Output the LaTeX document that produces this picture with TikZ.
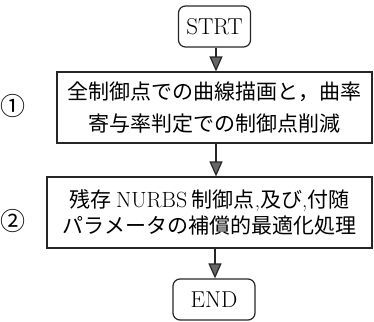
\documentclass[tikz,border=0pt]{standalone}
\usepackage{fontspec}
\newfontfamily\jp{Noto Sans CJK JP}
\usetikzlibrary{arrows.meta}
\tikzset{
  lin/.style={draw=black!85, line width=1.2bp},
  term/.style={lin, rounded corners=7bp, minimum height=41bp, inner sep=0pt, font=\fontsize{23bp}{26bp}\selectfont},
  proc/.style={lin, inner sep=0pt, align=center, minimum height=71bp},
  arr/.style={draw=black!85, line width=1.2bp, -{Triangle[width=13bp,length=15bp,fill=black!60]}},
  num/.style={inner sep=0pt, font=\fontsize{25bp}{27bp}\selectfont\jp}
}
\begin{document}
\begin{tikzpicture}[x=1bp,y=-1bp]
\useasboundingbox (0,0) rectangle (374,322);
\node[term, minimum width=72bp] (s) at (214.5,26.5) {STRT};
\node[proc, minimum width=315bp, font=\fontsize{21bp}{32bp}\selectfont\jp] (b1) at (214.5,107.5)
  {全制御点での曲線描画と，曲率\\寄与率判定での制御点削減};
\node[proc, minimum width=325bp, font=\fontsize{21bp}{26bp}\selectfont\jp] (b2) at (209.5,212.5)
  {残存 {\rmfamily\fontsize{22bp}{26bp}\selectfont NURBS} 制御点{\rmfamily,}及び{\rmfamily,}付随\\パラメータの補償的最適化処理};
\node[term, minimum width=82bp] (e) at (214,299.5) {END};
\node[num] (n1) at (13,106) {①};
\node[num] (n2) at (13,221) {②};
\coordinate (a1) at (216,0);
\coordinate (a2) at (215,0);
\draw[arr] (a1 |- s.south) -- (a1 |- b1.north);
\draw[arr] (a1 |- b1.south) -- (a1 |- b2.north);
\draw[arr] (a2 |- b2.south) -- (a2 |- e.north);
\end{tikzpicture}
\end{document}
